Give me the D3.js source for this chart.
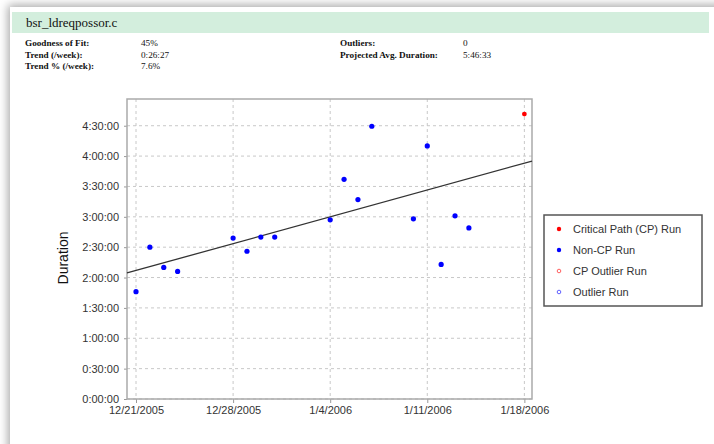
<!DOCTYPE html>
<html>
<head>
<meta charset="utf-8">
<script src="https://cdn.jsdelivr.net/npm/d3@7"></script>
<style>
  html, body { margin: 0; padding: 0; background: #ffffff; width: 714px; height: 444px; overflow: hidden; }
  #card { position: absolute; left: 10px; top: 7px; width: 740px; height: 480px; background: #fff;
          box-shadow: 0 0 9px 2px rgba(0,0,0,0.35); }
  svg { position: absolute; left: 0; top: 0; }
</style>
</head>
<body>
<div id="card"></div>
<svg id="chart" width="714" height="444"></svg>
<script>
// ---- data ----
const title = "bsr_ldreqpossor.c";
const statLabelsLeft = ["Goodness of Fit:", "Trend (/week):", "Trend % (/week):"];
const statValuesLeft = ["45%", "0:26:27", "7.6%"];
const statLabelsRight = ["Outliers:", "Projected Avg. Duration:"];
const statValuesRight = ["0", "5:46:33"];

const runDates = ["2005-12-21","2005-12-22","2005-12-23","2005-12-24","2005-12-28","2005-12-29",
                  "2005-12-30","2005-12-31","2006-01-04","2006-01-05","2006-01-06","2006-01-07",
                  "2006-01-10","2006-01-11","2006-01-12","2006-01-13","2006-01-14"];
const runDurations = ["1:46:00","2:30:00","2:10:00","2:06:00","2:39:00","2:26:00",
                      "2:40:00","2:40:00","2:57:00","3:37:00","3:17:00","4:29:30",
                      "2:58:00","4:10:00","2:13:00","3:01:00","2:49:00"];
const cpDates = ["2006-01-18"];
const cpDurations = ["4:41:30"];
const trendDates = ["2005-12-21","2006-01-18"];
const trendDurations = ["2:07:00","3:53:00"];

const xTickLabels = ["12/21/2005","12/28/2005","1/4/2006","1/11/2006","1/18/2006"];
const yTickLabels = ["0:00:00","0:30:00","1:00:00","1:30:00","2:00:00","2:30:00","3:00:00","3:30:00","4:00:00","4:30:00"];
const legendLabels = ["Critical Path (CP) Run","Non-CP Run","CP Outlier Run","Outlier Run"];

(function () {
// ---- helpers ----
const parseDate = d3.timeParse("%Y-%m-%d");
const parseTick = d3.timeParse("%m/%d/%Y");
const toHours = s => { const p = s.split(":").map(Number); return p[0] + p[1]/60 + p[2]/3600; };

const svg = d3.select("#chart");

// header
svg.append("rect").attr("x", 12).attr("y", 12).attr("width", 697).attr("height", 21).attr("fill", "#d3eedd");
svg.append("text").attr("x", 26).attr("y", 27).attr("font-family", "Liberation Serif, serif")
   .attr("font-size", 13).attr("fill", "#111").text(title);

const rowY = [46, 57.5, 69];
const statFont = "Liberation Serif, serif";
const statSize = 9.2;
statLabelsLeft.forEach((t, i) => {
  svg.append("text").attr("x", 25).attr("y", rowY[i]).attr("font-family", statFont).attr("font-weight", "bold")
     .attr("font-size", statSize).attr("fill", "#111").text(t);
  svg.append("text").attr("x", 141).attr("y", rowY[i]).attr("font-family", statFont)
     .attr("font-size", statSize).attr("fill", "#111").text(statValuesLeft[i]);
});
statLabelsRight.forEach((t, i) => {
  svg.append("text").attr("x", 340).attr("y", rowY[i]).attr("font-family", statFont).attr("font-weight", "bold")
     .attr("font-size", statSize).attr("fill", "#111").text(t);
  svg.append("text").attr("x", 463).attr("y", rowY[i]).attr("font-family", statFont)
     .attr("font-size", statSize).attr("fill", "#111").text(statValuesRight[i]);
});

// plot area
const pLeft = 127, pTop = 99, pRight = 532, pBottom = 399;
const day = 864e5;
const x = d3.scaleTime()
  .domain([new Date(parseDate("2005-12-21").getTime() - 0.65*day), new Date(parseDate("2006-01-18").getTime() + 0.55*day)])
  .range([pLeft, pRight]);
const y = d3.scaleLinear().domain([0, 4.94]).range([pBottom, pTop]);

const xTicks = xTickLabels.map(parseTick);
const yTicks = yTickLabels.map(toHours);

// grid
const grid = svg.append("g").attr("stroke", "#c8c8c8").attr("stroke-width", 1).attr("stroke-dasharray", "3,3");
yTicks.forEach(v => grid.append("line").attr("x1", pLeft).attr("x2", pRight).attr("y1", y(v)).attr("y2", y(v)));
xTicks.forEach(v => grid.append("line").attr("x1", x(v)).attr("x2", x(v)).attr("y1", pTop).attr("y2", pBottom));

// axes
const xAxis = d3.axisBottom(x).tickValues(xTicks).tickSize(4).tickPadding(3)
  .tickFormat((d, i) => xTickLabels[i]);
const gx = svg.append("g").attr("transform", `translate(0,${pBottom})`).call(xAxis);
gx.select(".domain").remove();
gx.selectAll("line").attr("stroke", "#999");
gx.selectAll("text").attr("font-family", "Liberation Sans, Arial, sans-serif").attr("font-size", 11).attr("fill", "#333");

const yAxis = d3.axisLeft(y).tickValues(yTicks).tickSize(3).tickPadding(5)
  .tickFormat((d, i) => yTickLabels[i]);
const gy = svg.append("g").attr("transform", `translate(${pLeft},0)`).call(yAxis);
gy.select(".domain").remove();
gy.selectAll("line").attr("stroke", "#999");
gy.selectAll("text").attr("font-family", "Liberation Sans, Arial, sans-serif").attr("font-size", 11).attr("fill", "#333");

// frame
svg.append("rect").attr("x", pLeft).attr("y", pTop).attr("width", pRight - pLeft).attr("height", pBottom - pTop)
   .attr("fill", "none").attr("stroke", "#aaa").attr("stroke-width", 1.5);

svg.append("text").attr("transform", `translate(68,258) rotate(-90)`).attr("text-anchor", "middle")
   .attr("font-family", "Liberation Sans, Arial, sans-serif").attr("font-size", 14).attr("fill", "#111").text("Duration");

// trend line, extended to plot edges
const t0 = parseDate(trendDates[0]), t1 = parseDate(trendDates[1]);
const v0 = toHours(trendDurations[0]), v1 = toHours(trendDurations[1]);
const slope = (v1 - v0) / (t1 - t0);
const dom = x.domain();
const trendPts = dom.map(d => [d, v0 + slope * (d - t0)]);
svg.append("path").attr("d", d3.line().x(d => x(d[0])).y(d => y(d[1]))(trendPts))
   .attr("stroke", "#333").attr("stroke-width", 1.3).attr("fill", "none");

// points
svg.append("g").selectAll("circle").data(runDates.map((d, i) => [parseDate(d), toHours(runDurations[i])]))
  .join("circle").attr("cx", d => x(d[0])).attr("cy", d => y(d[1])).attr("r", 2.6).attr("fill", "#0000ff");
svg.append("g").selectAll("circle").data(cpDates.map((d, i) => [parseDate(d), toHours(cpDurations[i])]))
  .join("circle").attr("cx", d => x(d[0])).attr("cy", d => y(d[1])).attr("r", 2.4).attr("fill", "#ff0000");

// legend
const lg = svg.append("g");
lg.append("rect").attr("x", 544).attr("y", 215).attr("width", 158).attr("height", 91)
  .attr("fill", "#fff").attr("stroke", "#555").attr("stroke-width", 1.5);
const legendStyles = [
  {fill: "#ff0000", stroke: "none"},
  {fill: "#0000ff", stroke: "none"},
  {fill: "none", stroke: "#ff6060"},
  {fill: "none", stroke: "#6060ff"}
];
legendLabels.forEach((t, i) => {
  const cy = 229 + i * 21;
  lg.append("circle").attr("cx", 559).attr("cy", cy).attr("r", legendStyles[i].fill === "none" ? 1.8 : 2.2)
    .attr("fill", legendStyles[i].fill).attr("stroke", legendStyles[i].stroke).attr("stroke-width", 1);
  lg.append("text").attr("x", 573).attr("y", cy + 4).attr("font-family", "Liberation Sans, Arial, sans-serif")
    .attr("font-size", 11).attr("fill", "#333").text(t);
});
})();
</script>
</body>
</html>
